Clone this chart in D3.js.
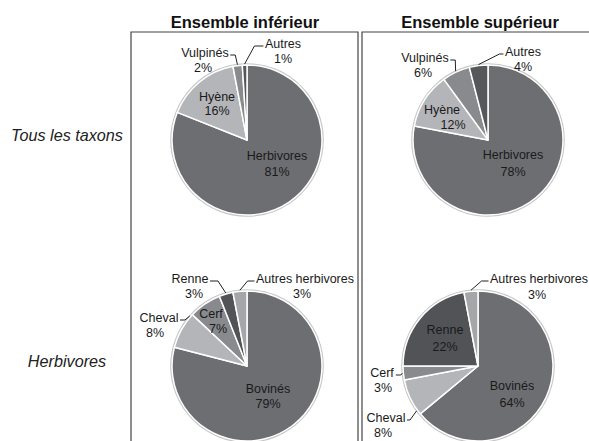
<!DOCTYPE html>
<html><head><meta charset="utf-8">
<script src="https://cdn.jsdelivr.net/npm/d3@7"></script>
<style>body{margin:0;background:#fff}svg{display:block}</style>
</head><body>
<svg id="c" width="589" height="441" font-family="Arial, 'Liberation Sans', Helvetica, sans-serif"></svg>
<script>
// ---- data ----
const columnTitles = ["Ensemble inférieur", "Ensemble supérieur"];
const rowTitles = ["Tous les taxons", "Herbivores"];
const taxaCategories = ["Herbivores", "Hyène", "Vulpinés", "Autres"];
const taxaInferieur = [81, 16, 2, 1];
const taxaSuperieur = [78, 12, 6, 4];
const herbCategories = ["Bovinés", "Cheval", "Cerf", "Renne", "Autres herbivores"];
const herbInferieur = [79, 8, 7, 3, 3];
const herbSuperieur = [64, 8, 3, 22, 3];

// ---- styles ----
const taxaColors = ["#6d6e72", "#b4b5b8", "#898a8e", "#55575a"];
const herbColors = ["#6d6e72", "#b4b5b8", "#898a8e", "#525357", "#a5a6a9"];

// ---- layout (label placement per slice) ----
const panels = [
  {cx: 247, cy: 140, cats: taxaCategories, vals: taxaInferieur, cols: taxaColors, labels: [
    {n: [30, 16], p: [30, 32]},
    {n: [-30, -43], p: [-30, -29]},
    {n: [-42, -87], p: [-44, -72], lead: "r", len: 5, f: 0.5},
    {n: [36, -96], p: [36, -81], lead: "l", len: 9, f: 0.5}
  ]},
  {cx: 488, cy: 140, cats: taxaCategories, vals: taxaSuperieur, cols: taxaColors, labels: [
    {n: [25, 15], p: [25, 32]},
    {n: [-46, -30], p: [-35, -15]},
    {n: [-63, -82], p: [-65, -67], lead: "r", len: 5, f: 0.5},
    {n: [35, -88], p: [35, -73], lead: "l", len: 4, f: 0.5}
  ]},
  {cx: 247, cy: 366, cats: herbCategories, vals: herbInferieur, cols: herbColors, labels: [
    {n: [21, 23], p: [21, 38]},
    {n: [-88, -48], p: [-92, -33], lead: "r", len: 5, f: 0.93},
    {n: [-36, -52], p: [-29, -37]},
    {n: [-57, -87], p: [-53, -72], lead: "r", len: 8, f: 0.5},
    {n: [58, -87], p: [55, -72], lead: "l", len: 7, f: 0.5}
  ]},
  {cx: 478, cy: 366, cats: herbCategories, vals: herbSuperieur, cols: herbColors, labels: [
    {n: [34, 20], p: [34, 37]},
    {n: [-92, 52], p: [-95, 67], lead: "r", len: 3, f: 0.12},
    {n: [-96, 7], p: [-95, 22], lead: "r", len: 5, f: 0.5},
    {n: [-33, -36], p: [-33, -19]},
    {n: [61, -87], p: [59, -71], lead: "l", len: 7, f: 0.5}
  ]}
];
const R = 75;
const fontSize = 12.5;

const svg = d3.select("#c");

// frames
svg.append("path").attr("d", "M131,441V32H358V441").attr("fill", "none").attr("stroke", "#444").attr("stroke-width", 1.2);
svg.append("path").attr("d", "M362,441V32H590").attr("fill", "none").attr("stroke", "#444").attr("stroke-width", 1.2);

// titles
const titleX = [245, 480];
columnTitles.forEach((t, i) => svg.append("text").attr("x", titleX[i]).attr("y", 28)
  .attr("text-anchor", "middle").attr("font-weight", "bold").attr("font-size", 16.5).attr("fill", "#111").text(t));
const rowY = [141, 367];
rowTitles.forEach((t, i) => svg.append("text").attr("x", 67).attr("y", rowY[i])
  .attr("text-anchor", "middle").attr("font-style", "italic").attr("font-size", 16.2).attr("fill", "#222").text(t));

const pie = d3.pie().sort(null).value(d => d);
const arc = d3.arc().innerRadius(0).outerRadius(R);

panels.forEach(P => {
  const g = svg.append("g").attr("transform", `translate(${P.cx},${P.cy})`);
  const arcs = pie(P.vals);
  g.append("circle").attr("r", R + 0.8).attr("fill", "none").attr("stroke", "#c6c6c8").attr("stroke-width", 2);
  g.selectAll("path.s").data(arcs).join("path").attr("class", "s")
    .attr("d", arc).attr("fill", (d, i) => P.cols[i])
    .attr("stroke", "#fff").attr("stroke-width", 1.5).attr("stroke-linejoin", "round");

  arcs.forEach((d, i) => {
    const L = P.labels[i];
    const name = g.append("text").attr("x", L.n[0]).attr("y", L.n[1]).attr("dy", "0.35em")
      .attr("text-anchor", "middle").attr("font-size", fontSize).attr("fill", "#1a1a1a").text(P.cats[i]);
    g.append("text").attr("x", L.p[0]).attr("y", L.p[1]).attr("dy", "0.35em")
      .attr("text-anchor", "middle").attr("font-size", fontSize).attr("fill", "#1a1a1a")
      .text(d3.format(".0f")(d.value) + "%");
    if (L.lead) {
      const bb = name.node().getBBox();
      const sx = L.lead === "r" ? bb.x + bb.width + 1.5 : bb.x - 1.5;
      const sy = L.n[1] + 2;
      const ex = sx + (L.lead === "r" ? L.len : -L.len);
      const a = d.startAngle + (d.endAngle - d.startAngle) * L.f;
      const px = Math.sin(a) * (R + 1), py = -Math.cos(a) * (R + 1);
      g.append("path").attr("d", `M${sx},${sy}H${ex}L${px},${py}`)
        .attr("fill", "none").attr("stroke", "#222").attr("stroke-width", 1);
    }
  });
});
</script>
</body></html>
